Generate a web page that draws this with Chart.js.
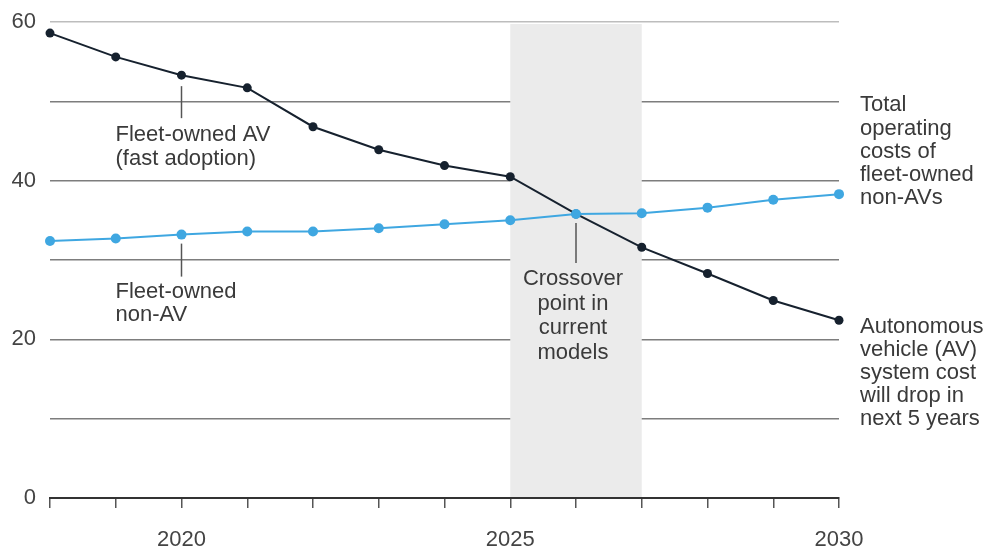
<!DOCTYPE html>
<html>
<head>
<meta charset="utf-8">
<script src="https://cdn.jsdelivr.net/npm/chart.js@4/dist/chart.umd.min.js"></script>
<style>
  html, body { margin: 0; padding: 0; background: #fff; }
  #wrap { width: 994px; height: 549px; position: relative; }
</style>
</head>
<body>
<div id="wrap"><canvas id="chart"></canvas></div>
<script>
const FONT = "'Liberation Sans', Arial, Helvetica, sans-serif";

const years = [2018, 2019, 2020, 2021, 2022, 2023, 2024, 2025, 2026, 2027, 2028, 2029, 2030];
const fleetAV = [58.6, 55.6, 53.3, 51.7, 46.8, 43.9, 41.9, 40.5, 35.8, 31.6, 28.3, 24.9, 22.4];
const fleetNonAV = [32.4, 32.7, 33.2, 33.6, 33.6, 34.0, 34.5, 35.0, 35.8, 35.9, 36.6, 37.6, 38.3];
const xLabelYears = [2020, 2025, 2030];
const yLabelValues = [0, 20, 40, 60];
const crossoverBand = [2025, 2027];

const avLabel = ["Fleet-owned AV", "(fast adoption)"];
const nonAvLabel = ["Fleet-owned", "non-AV"];
const crossLabel = ["Crossover", "point in", "current", "models"];
const totalLabel = ["Total", "operating", "costs of", "fleet-owned", "non-AVs"];
const avCostLabel = ["Autonomous", "vehicle (AV)", "system cost", "will drop in", "next 5 years"];

Chart.defaults.font.family = FONT;
Chart.defaults.font.size = 22;
Chart.defaults.color = "#444";

// grey band behind the lines, over the grid
const bandPlugin = {
  id: "band",
  beforeDatasetsDraw(chart) {
    const { ctx, scales, chartArea } = chart;
    const x0 = scales.x.getPixelForValue(crossoverBand[0]);
    const x1 = scales.x.getPixelForValue(crossoverBand[1]);
    const top = scales.y.getPixelForValue(59.75);
    ctx.save();
    ctx.fillStyle = "#ebebeb";
    ctx.fillRect(x0, top, x1 - x0, chartArea.bottom - 1 - top);
    ctx.restore();
  },
};

// leader lines and text notes
const notesPlugin = {
  id: "notes",
  afterDraw(chart) {
    const { ctx, scales, chartArea } = chart;
    const px = (v) => scales.x.getPixelForValue(v);
    const py = (v) => scales.y.getPixelForValue(v);

    const leader = (x, y0, y1) => {
      ctx.beginPath();
      ctx.moveTo(x, y0);
      ctx.lineTo(x, y1);
      ctx.stroke();
    };
    const lines = (arr, x, y, step, align) => {
      ctx.textAlign = align;
      arr.forEach((t, i) => ctx.fillText(t, x, y + i * step));
    };

    ctx.save();
    ctx.strokeStyle = "#555";
    ctx.lineWidth = 1.5;
    ctx.fillStyle = "#3a3a3a";
    ctx.font = "22px " + FONT;
    ctx.textBaseline = "middle";

    let x = px(2020);
    let y = py(fleetAV[2]);
    leader(x, y + 11, y + 43);
    lines(avLabel, x - 66, y + 60, 24, "left");

    y = py(fleetNonAV[2]);
    leader(x, y + 9, y + 42);
    lines(nonAvLabel, x - 66, y + 57, 23, "left");

    x = px(2026);
    y = py(fleetNonAV[8]);
    leader(x, y + 9, y + 49);
    lines(crossLabel, x - 3, y + 65, 24.7, "center");

    const rx = chartArea.right + 21;
    y = py(fleetNonAV[12]);
    lines(totalLabel, rx, y - 89, 23.3, "left");

    y = py(fleetAV[12]);
    lines(avCostLabel, rx, y + 7, 22.8, "left");
    ctx.restore();
  },
};

new Chart(document.getElementById("chart"), {
  type: "line",
  data: {
    datasets: [
      {
        label: "Fleet-owned non-AV",
        data: years.map((yr, i) => ({ x: yr, y: fleetNonAV[i] })),
        borderColor: "#3fa7e1",
        backgroundColor: "#3fa7e1",
        borderWidth: 2,
        pointRadius: 5,
        pointBorderWidth: 0,
        tension: 0,
        clip: false,
        order: 0,
      },
      {
        label: "Fleet-owned AV (fast adoption)",
        data: years.map((yr, i) => ({ x: yr, y: fleetAV[i] })),
        borderColor: "#16212e",
        backgroundColor: "#16212e",
        borderWidth: 2,
        pointRadius: 4.5,
        pointBorderWidth: 0,
        tension: 0,
        clip: false,
        order: 1,
      },
    ],
  },
  options: {
    responsive: true,
    maintainAspectRatio: false,
    animation: false,
    layout: { padding: { top: 22, right: 155, left: 0, bottom: 0 } },
    plugins: {
      legend: { display: false },
      tooltip: { enabled: false },
    },
    scales: {
      x: {
        type: "linear",
        min: 2018,
        max: 2030,
        afterFit: (scale) => {
          scale.height = 51;
          scale.paddingLeft = 0;
          scale.paddingRight = 0;
        },
        ticks: {
          stepSize: 1,
          padding: 19,
          color: "#444",
          autoSkip: false,
          maxRotation: 0,
          callback: (v) => (xLabelYears.includes(v) ? String(v) : ""),
        },
        grid: {
          drawOnChartArea: false,
          drawTicks: true,
          tickLength: 10,
          color: "#555",
          lineWidth: 1.5,
        },
        border: { display: true, color: "#333", width: 2 },
      },
      y: {
        min: 0,
        max: 60,
        afterFit: (scale) => {
          scale.width = 50;
          scale.paddingTop = 0;
          scale.paddingBottom = 0;
        },
        ticks: {
          stepSize: 10,
          padding: 14,
          color: "#444",
          callback: (v) => (yLabelValues.includes(v) ? String(v) : ""),
        },
        grid: {
          drawTicks: false,
          lineWidth: 1.5,
          color: (c) => {
            if (c.tick.value === 0) return "rgba(0,0,0,0)";
            return c.tick.value === 60 ? "#bdbdbd" : "#7d7d7d";
          },
        },
        border: { display: false },
      },
    },
  },
  plugins: [bandPlugin, notesPlugin],
});
</script>
</body>
</html>
